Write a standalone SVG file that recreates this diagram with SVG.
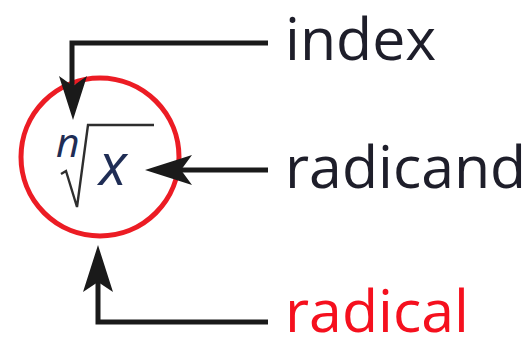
<svg xmlns="http://www.w3.org/2000/svg" width="527" height="337" viewBox="0 0 527 337">
<style>
.lbl{font-family:"Open Sans","Liberation Sans",sans-serif;font-size:59px;fill:#1e1e2a}
.math{font-family:"Open Sans","Liberation Sans",sans-serif;font-style:italic;fill:#1f2d55}
.conn{fill:none;stroke:#1a1a1a;stroke-width:5}
.head{fill:#1a1a1a}
</style>
<rect width="527" height="337" fill="#fff"/>
<g id="radical-node">
<circle cx="100" cy="157" r="79" fill="none" stroke="#ec1c24" stroke-width="5"/>
<text class="math" x="56" y="157" font-size="41">n</text>
<path d="M61 174 L66 171 L77 207 L88 125 L154 125" fill="none" stroke="#2e2e2e" stroke-width="2.4" stroke-linejoin="miter"/>
<text class="math" x="99" y="185" font-size="58">x</text>
</g>
<g id="index"><text class="lbl" x="285" y="60">index</text></g>
<g id="radicand"><text class="lbl" x="285" y="188">radicand</text></g>
<g id="radical"><text class="lbl" x="285" y="332" style="fill:#f5101e">radical</text></g>
<g id="connectors">
<path class="conn" d="M268 43 L72 43 L72 90"/>
<path class="head" d="M73 120 L59 76 L73 86 L87 76 Z"/>
<path class="conn" d="M268 170 L175 170"/>
<path class="head" d="M145 170 L192 155 L181 170 L192 185 Z"/>
<path class="conn" d="M268 322 L98 322 L98 280"/>
<path class="head" d="M98 245 L83 292 L98 282 L113 292 Z"/>
</g>
</svg>
